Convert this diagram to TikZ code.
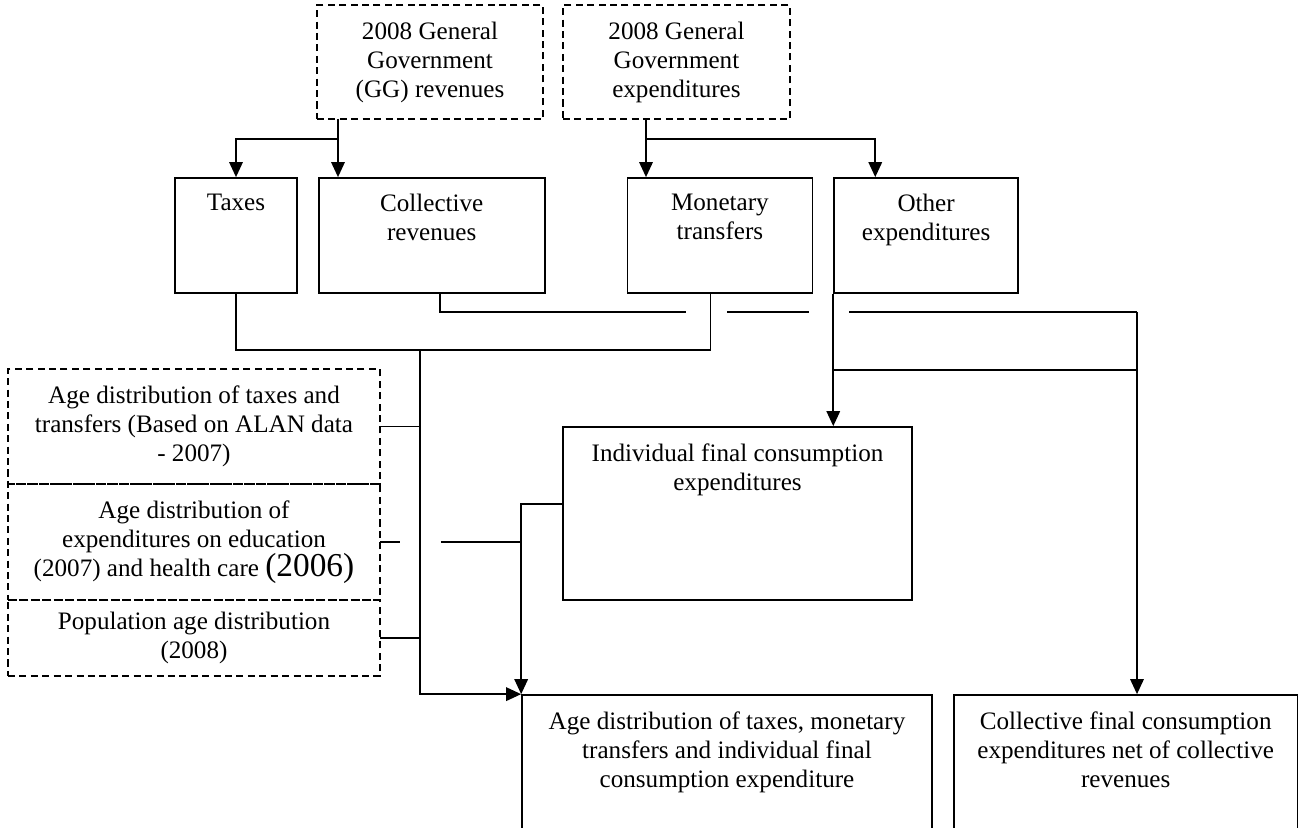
\documentclass[tikz,border=0pt]{standalone}
\usepackage{fontspec}
\setmainfont{Liberation Serif}
\usepackage{tikz}
\usetikzlibrary{arrows.meta}
\usetikzlibrary{calc}
\usetikzlibrary{positioning}

\begin{document}
\begin{tikzpicture}[x=0.02cm, y=-0.02cm,
        txt/.style={font=\fontsize{14.3}{16.5}\selectfont},
        ln/.style={line width=0.9pt},
        arr/.style={ln, -{Triangle[length=0.3cm,width=0.27cm]}},
        dbox/.style={draw, ln, dash pattern=on 4pt off 2.5pt, align=center, txt, inner sep=0pt, outer sep=0pt},
        sbox/.style={draw, line width=1pt, minimum height=2.3cm,
            label={[anchor=north, yshift=-0.34cm, inner sep=0pt, align=center, txt]north:#1}}]
        \clip (0,0) rectangle (1298,828);

        \node[dbox, minimum width=4.52cm, minimum height=2.28cm] (rev) at (430,62) {2008 General\\Government\\(GG) revenues};
        \node[dbox, minimum width=4.54cm, minimum height=2.28cm, right=0.4cm of rev] (exp) {2008 General\\Government\\expenditures};

        \node[sbox={Taxes}, minimum width=2.44cm] (tax) at (236,235.5) {};
        \node[sbox={Collective\\revenues}, minimum width=4.52cm, right=0.4cm of tax] (crev) {};
        \node[sbox={Monetary\\transfers}, minimum width=3.7cm, right=1.62cm of crev] (mon) {};
        \node[sbox={Other\\expenditures}, minimum width=3.68cm, right=0.4cm of mon] (oth) {};

        \node[dbox, minimum width=7.44cm, minimum height=2.3cm] (atax) at (194,426.5) {Age distribution of taxes and\\transfers (Based on ALAN data\\- 2007)};
        \node[dbox, minimum width=7.44cm, minimum height=2.32cm, below=0pt of atax] (aedu) {Age distribution of\\expenditures on education\\(2007) and health care {\fontsize{19}{16.5}\selectfont(2006)}};
        \node[dbox, minimum width=7.44cm, minimum height=1.52cm, below=0pt of aedu] (apop) {Population age distribution\\(2008)};

        \node[sbox={Individual final consumption\\expenditures}, minimum width=6.98cm, minimum height=3.46cm] (ind) at (737.5,513.5) {};
        \node[sbox={Age distribution of taxes, monetary\\transfers and individual final\\consumption expenditure}, minimum width=8.2cm, minimum height=3cm] (res) at (727,770) {};
        \node[sbox={Collective final consumption\\expenditures net of collective\\revenues}, minimum width=6.88cm, minimum height=3cm, right=0.4cm of res] (coll) {};

        \coordinate (rs) at (338,139);
        \coordinate (es) at (646,139);
        \coordinate (tj) at (420,350);
        \coordinate (cr) at (440,312);
        \coordinate (cd) at (1137,370);

        \draw[arr] (rs |- rev.south) -- (rs) -| (tax.north);
        \draw[arr] (rs) -- (rs |- crev.north);
        \draw[arr] (es |- exp.south) -- (es) -- (es |- mon.north);
        \draw[arr] (es) -| ([xshift=0.84cm]oth.north west);

        \draw[ln] (tax.south) |- (tj) -| ([xshift=-0.19cm]mon.south);
        \draw[arr] (tj) |- (res.north west);
        \draw[ln] (atax.east) -- (atax.east -| tj);
        \draw[ln] (apop.east) -- (apop.east -| tj);
        \draw[ln] (aedu.east) -- ++(20,0) ++(41,0) -- (aedu.east -| res.north west);
        \draw[arr] ([yshift=0.19cm]ind.west) -| (res.north west);

        \draw[ln] (crev.south -| cr) -- (cr) -- ++(246,0) ++(41,0) -- ++(82,0) ++(40,0) -- (cr -| cd);
        \draw[arr] (cr -| cd) -- (cd |- coll.north);
        \draw[ln] (oth.south west |- cd) -- (cd);
        \draw[arr] (oth.south west) -- (oth.south west |- ind.north);
    \end{tikzpicture}
\end{document}
